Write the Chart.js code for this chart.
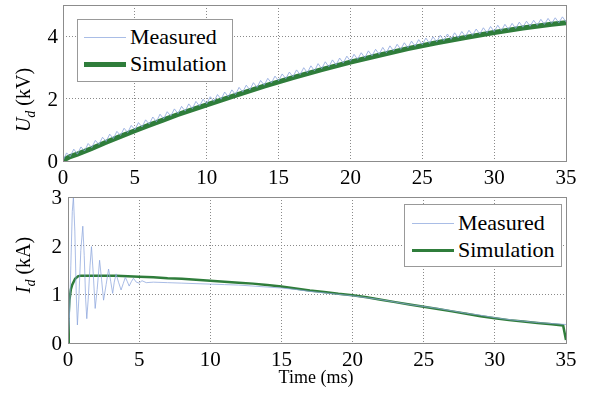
<!DOCTYPE html>
<html>
<head>
<meta charset="utf-8">
<script src="https://cdn.jsdelivr.net/npm/chart.js"></script>
<style>
  body { margin: 0; background: #fff; }
  #wrap { position: relative; width: 597px; height: 394px; font-family: "Liberation Serif", "Times New Roman", serif; }
  canvas { position: absolute; left: 0; }
  .ytitle { position: absolute; font-size: 20px; white-space: nowrap; transform: translate(-50%, -50%) rotate(-90deg); }
  .ytitle sub { font-size: 14px; }
  .xtitle { position: absolute; font-size: 18px; transform: translateX(-50%); white-space: nowrap; }
  .tick { position: absolute; font-size: 21px; line-height: 21px; white-space: nowrap; color: #000; }
  .legend { position: absolute; background: #fff; border: 1px solid #999; font-size: 22px; }
  .legend .row { position: absolute; left: 0; height: 26px; line-height: 26px; }
  .legend .sw { position: absolute; top: 13px; }
  .legend .lbl { position: absolute; top: 0; white-space: nowrap; }
</style>
</head>
<body>
<div id="wrap">
  <canvas id="top" width="597" height="194" style="top:0"></canvas>
  <canvas id="bot" width="597" height="200" style="top:194px"></canvas>

  <div class="ytitle" style="left:25px; top:100px"><i>U<sub>d</sub></i> (kV)</div>
  <div class="ytitle" style="left:25px; top:265px"><i>I<sub>d</sub></i> (kA)</div>
  <div class="xtitle" style="left:316px; top:367px">Time (ms)</div>

  <div class="legend" style="left:77px; top:19px; width:154px; height:61px">
    <div class="row" style="top:4px">
      <div class="sw" style="left:6px; width:42px; height:1px; background:#a9bde6"></div>
      <div class="lbl" style="left:52px">Measured</div>
    </div>
    <div class="row" style="top:31px">
      <div class="sw" style="left:6px; width:42px; height:5px; margin-top:-2px; background:#2f7d3b"></div>
      <div class="lbl" style="left:52px">Simulation</div>
    </div>
  </div>

  <div class="legend" style="left:404px; top:204px; width:156px; height:61px">
    <div class="row" style="top:5px">
      <div class="sw" style="left:7px; width:42px; height:1px; background:#a9bde6"></div>
      <div class="lbl" style="left:53px">Measured</div>
    </div>
    <div class="row" style="top:32px">
      <div class="sw" style="left:7px; width:42px; height:3px; margin-top:-1px; background:#2f7d3b"></div>
      <div class="lbl" style="left:53px">Simulation</div>
    </div>
  </div>
</div>

<script>
// --- voltage U_d (kV) ---
// measured, sampled every 0.25 ms from 0 to 35 ms
var uMeasStep = 0.25;
var uMeas = [
  0.00, 0.26, 0.14, 0.38, 0.22, 0.45, 0.32, 0.56, 0.43, 0.66, 0.53, 0.76, 0.63, 0.86, 0.72, 0.95, 0.82, 1.05, 0.91, 1.14,
  1.00, 1.23, 1.09, 1.32, 1.18, 1.41, 1.26, 1.50, 1.35, 1.58, 1.44, 1.67, 1.52, 1.75, 1.60, 1.83, 1.68, 1.91, 1.76, 1.98,
  1.83, 2.06, 1.91, 2.13, 1.98, 2.21, 2.06, 2.28, 2.13, 2.36, 2.21, 2.43, 2.28, 2.51, 2.36, 2.58, 2.43, 2.65, 2.50, 2.72,
  2.57, 2.79, 2.64, 2.85, 2.70, 2.92, 2.77, 2.99, 2.83, 3.05, 2.89, 3.12, 2.96, 3.18, 3.02, 3.24, 3.08, 3.30, 3.14, 3.36,
  3.20, 3.42, 3.26, 3.47, 3.31, 3.53, 3.37, 3.58, 3.42, 3.64, 3.47, 3.69, 3.53, 3.74, 3.58, 3.79, 3.63, 3.84, 3.68, 3.89,
  3.73, 3.94, 3.77, 3.98, 3.82, 4.03, 3.86, 4.07, 3.90, 4.11, 3.95, 4.15, 3.99, 4.19, 4.03, 4.23, 4.07, 4.27, 4.11, 4.31,
  4.15, 4.35, 4.18, 4.38, 4.22, 4.41, 4.25, 4.45, 4.29, 4.48, 4.32, 4.51, 4.35, 4.54, 4.38, 4.57, 4.41, 4.59, 4.43, 4.62,
  4.46
];
var uSimT = [0, 0.2, 0.5, 1, 2, 3, 4, 5, 6, 7, 8, 9, 10, 12, 14, 16, 18, 20, 22, 24, 26, 28, 30, 32, 34, 35];
var uSim  = [0, 0.07, 0.14, 0.22, 0.40, 0.60, 0.79, 0.97, 1.15, 1.32, 1.49, 1.65, 1.80, 2.10, 2.40, 2.67, 2.93, 3.17, 3.39, 3.60, 3.79, 3.96, 4.12, 4.26, 4.38, 4.43];
var uTicks = [0, 2, 4];

// --- current I_d (kA) ---
var iMeasT = [0, 0.1, 0.2, 0.3, 0.38, 0.48, 0.58, 0.66, 0.76, 0.9, 1.04, 1.14, 1.24, 1.32, 1.42, 1.55, 1.65, 1.78, 1.91, 2.05,
  2.22, 2.36, 2.5, 2.68, 2.85, 3.0, 3.14, 3.25, 3.38, 3.55, 3.73, 3.88, 4.03, 4.17, 4.3, 4.45, 4.6, 4.8, 5.0, 5.2, 5.5,
  6, 7, 8, 9, 10, 11, 12, 13, 14, 15, 16, 17, 18, 19, 20, 21, 22, 23, 24, 25, 26, 27, 28, 29, 30, 31, 32, 33, 34, 35];
var iMeas  = [0, 0.5, 1.6, 2.7, 3.0, 2.3, 1.0, 0.37, 0.9, 1.9, 2.4, 1.8, 0.9, 0.5, 0.9, 1.6, 1.98, 1.4, 0.71, 1.1,
  1.7, 1.3, 0.88, 1.2, 1.52, 1.27, 1.02, 1.25, 1.42, 1.25, 1.09, 1.22, 1.35, 1.26, 1.17, 1.26, 1.33, 1.25, 1.23, 1.28, 1.24,
  1.25, 1.24, 1.23, 1.22, 1.21, 1.20, 1.19, 1.17, 1.15, 1.13, 1.10, 1.06, 1.03, 1.00, 0.97, 0.93, 0.89, 0.84, 0.79, 0.75, 0.71, 0.66, 0.61, 0.57, 0.52, 0.48, 0.45, 0.42, 0.40, 0.38];
var iSimT = [0, 0.05, 0.1, 0.2, 0.3, 0.5, 0.7, 0.85, 3.4, 5, 6, 7, 8, 9, 10, 11, 12, 13, 14, 15, 16, 17, 18, 19, 20,
  21, 22, 23, 24, 25, 26, 27, 28, 29, 30, 31, 32, 33, 34, 34.8, 35];
var iSim  = [0, 0.6, 0.88, 1.1, 1.2, 1.32, 1.37, 1.38, 1.38, 1.36, 1.35, 1.33, 1.32, 1.30, 1.28, 1.26, 1.24, 1.22, 1.19, 1.16, 1.12, 1.08, 1.05, 1.01, 0.98,
  0.94, 0.89, 0.84, 0.79, 0.745, 0.70, 0.65, 0.60, 0.55, 0.51, 0.47, 0.44, 0.41, 0.385, 0.36, 0.06];
var iTicks = [0, 1, 2, 3];

var timeTicks = [0, 5, 10, 15, 20, 25, 30, 35];

function pts(xs, ys) {
  return ys.map(function (y, i) { return { x: xs[i], y: y }; });
}
var uMeasT = uMeas.map(function (v, i) { return i * uMeasStep; });

// box round the plot area
var frame = {
  id: 'frame',
  afterDraw: function (chart) {
    var a = chart.chartArea, ctx = chart.ctx;
    ctx.save();
    ctx.strokeStyle = '#8c8c8c';
    ctx.lineWidth = 1;
    ctx.strokeRect(Math.round(a.left) + 0.5, Math.round(a.top) + 0.5, Math.round(a.right - a.left), Math.round(a.bottom - a.top));
    ctx.restore();
  }
};

// inner grid only, the frame plugin draws the box
function gridColor(c) {
  var s = c.scale;
  if (c.tick && (c.tick.value === s.min || c.tick.value === s.max)) return 'rgba(0,0,0,0)';
  return '#8a8a8a';
}

// tick labels as page text (serif), placed from the chart's scales
function placeLabels(chart, canvasTop, xTop, yRight) {
  var wrap = document.getElementById('wrap');
  var xs = chart.scales.x, ys = chart.scales.y;
  xs.ticks.forEach(function (t) {
    var d = document.createElement('div');
    d.className = 'tick';
    d.textContent = String(t.value);
    d.style.left = xs.getPixelForValue(t.value) + 'px';
    d.style.top = xTop + 'px';
    d.style.transform = 'translateX(-50%)';
    wrap.appendChild(d);
  });
  ys.ticks.forEach(function (t) {
    var d = document.createElement('div');
    d.className = 'tick';
    d.textContent = String(t.value);
    d.style.left = yRight + 'px';
    d.style.top = (canvasTop + ys.getPixelForValue(t.value) - 10) + 'px';
    d.style.transform = 'translateX(-100%)';
    wrap.appendChild(d);
  });
}

function makeChart(id, datasets, yMax, yTicks, yWidth, pad, xHeight) {
  return new Chart(document.getElementById(id), {
    type: 'line',
    data: { datasets: datasets },
    plugins: [frame],
    options: {
      responsive: false,
      animation: false,
      parsing: false,
      layout: { padding: pad },
      plugins: { legend: { display: false }, tooltip: { enabled: false } },
      elements: { point: { radius: 0 }, line: { tension: 0 } },
      scales: {
        x: {
          type: 'linear', min: 0, max: 35,
          afterBuildTicks: function (s) { s.ticks = timeTicks.map(function (v) { return { value: v }; }); },
          afterFit: function (s) { s.height = xHeight; },
          grid: { color: gridColor, drawTicks: false },
          border: { display: false, dash: [1, 2] },
          ticks: { display: false }
        },
        y: {
          min: 0, max: yMax,
          afterBuildTicks: function (s) { s.ticks = yTicks.map(function (v) { return { value: v }; }); },
          afterFit: function (s) { s.width = yWidth; },
          grid: { color: gridColor, drawTicks: false },
          border: { display: false, dash: [1, 2] },
          ticks: { display: false }
        }
      }
    }
  });
}

var topChart = makeChart('top', [
  { data: pts(uMeasT, uMeas), borderColor: 'rgba(140,165,220,0.8)', borderWidth: 1 },
  { data: pts(uSimT, uSim), borderColor: '#2f7d3b', borderWidth: 5 }
], 5, uTicks, 63, { left: 0, top: 5, right: 31, bottom: 0 }, 33);

var botChart = makeChart('bot', [
  { data: pts(iMeasT, iMeas), borderColor: 'rgba(140,165,220,0.75)', borderWidth: 1 },
  { data: pts(iSimT, iSim), borderColor: '#2f7d3b', borderWidth: 2.5 }
], 3, iTicks, 68, { left: 0, top: 3, right: 31, bottom: 0 }, 51);

placeLabels(topChart, 0, 167, 58);
placeLabels(botChart, 194, 349, 62);
</script>
</body>
</html>
